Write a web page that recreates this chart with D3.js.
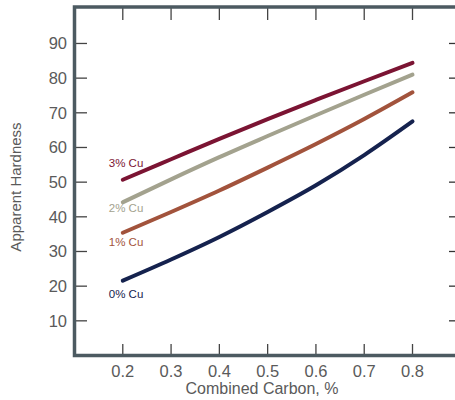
<!DOCTYPE html>
<html>
<head>
<meta charset="utf-8">
<script src="https://cdn.jsdelivr.net/npm/d3@7/dist/d3.min.js"></script>
<style>
  html, body { margin: 0; padding: 0; background: #fff; }
  svg { display: block; }
  text { font-family: "Liberation Sans", Arial, sans-serif; }
</style>
</head>
<body>
<svg id="chart" width="455" height="400"></svg>
<script>
// ---- data ----
const carbon = [0.2, 0.3, 0.4, 0.5, 0.6, 0.7, 0.8];
const cu3 = [50.7, 56.6, 62.5, 68.2, 73.7, 79.1, 84.4];
const cu2 = [44.2, 50.8, 57.2, 63.3, 69.3, 75.2, 81.0];
const cu1 = [35.4, 41.4, 47.6, 54.2, 61.0, 68.2, 75.9];
const cu0 = [21.6, 27.7, 34.2, 41.4, 49.1, 57.8, 67.5];
const seriesNames = ["3% Cu", "2% Cu", "1% Cu", "0% Cu"];
const seriesColors = ["#7b1433", "#a3a28e", "#a2533c", "#15224e"];
const xTicks = [0.2, 0.3, 0.4, 0.5, 0.6, 0.7, 0.8];
const yTicks = [10, 20, 30, 40, 50, 60, 70, 80, 90];
const xTitle = "Combined Carbon, %";
const yTitle = "Apparent Hardness";

const allSeries = [cu3, cu2, cu1, cu0];
const labelOffsets = [[-14, -17], [-14, 6], [-14, 9], [-14, 13]]; // label position relative to line start (px)

const svg = d3.select("#chart");
const frameColor = "#4c5a61";
const textColor = "#5a5a5a";

const x = d3.scaleLinear().domain([0.1, 0.888]).range([74.5, 455]);
const y = d3.scaleLinear().domain([0, 100]).range([355.5, 8.8]);

// right-side ticks
svg.append("g").selectAll("line").data(yTicks).join("line")
  .attr("x1", 449).attr("x2", 455)
  .attr("y1", d => y(d)).attr("y2", d => y(d))
  .attr("stroke", "#333").attr("stroke-width", 1.3);

// left axis inner ticks + labels
const gl = svg.append("g");
gl.selectAll("line").data(yTicks).join("line")
  .attr("x1", 76).attr("x2", 87)
  .attr("y1", d => y(d)).attr("y2", d => y(d))
  .attr("stroke", "#444").attr("stroke-width", 1.3);
gl.selectAll("text").data(yTicks).join("text")
  .attr("x", 67).attr("y", d => y(d)).attr("dy", "0.36em")
  .attr("text-anchor", "end").attr("fill", textColor)
  .attr("font-size", 16.5).text(d => d);

// top ticks
svg.append("g").selectAll("line").data(xTicks).join("line")
  .attr("x1", d => x(d)).attr("x2", d => x(d))
  .attr("y1", 8).attr("y2", 20)
  .attr("stroke", "#444").attr("stroke-width", 1.3);

// bottom ticks + labels
const gb = svg.append("g");
gb.selectAll("line").data(xTicks).join("line")
  .attr("x1", d => x(d)).attr("x2", d => x(d))
  .attr("y1", 344).attr("y2", 355)
  .attr("stroke", "#444").attr("stroke-width", 1.3);
gb.selectAll("text").data(xTicks).join("text")
  .attr("x", d => x(d)).attr("y", 377)
  .attr("text-anchor", "middle").attr("fill", textColor)
  .attr("font-size", 16.5).text(d => d3.format(".1f")(d));

// frame
svg.append("path")
  .attr("d", `M455,7 H74.5 V355.5 H455`)
  .attr("fill", "none").attr("stroke", frameColor).attr("stroke-width", 3.5);

// axis titles
svg.append("text").attr("x", 262).attr("y", 394)
  .attr("text-anchor", "middle").attr("fill", textColor)
  .attr("font-size", 16).text(xTitle);
svg.append("text")
  .attr("transform", `translate(21,187) rotate(-90)`)
  .attr("text-anchor", "middle").attr("fill", textColor)
  .attr("font-size", 15).text(yTitle);

// lines
const line = d3.line().x((d, i) => x(carbon[i])).y(d => y(d)).curve(d3.curveMonotoneX);
svg.append("g").selectAll("path").data(allSeries).join("path")
  .attr("d", d => line(d))
  .attr("fill", "none")
  .attr("stroke", (d, i) => seriesColors[i])
  .attr("stroke-width", 4)
  .attr("stroke-linecap", "round");

// series labels
svg.append("g").selectAll("text").data(allSeries).join("text")
  .attr("x", (d, i) => x(carbon[0]) + labelOffsets[i][0])
  .attr("y", (d, i) => y(d[0]) + labelOffsets[i][1])
  .attr("dy", "0.35em")
  .attr("fill", (d, i) => seriesColors[i])
  .attr("font-size", 11.5)
  .text((d, i) => seriesNames[i]);
</script>
</body>
</html>
